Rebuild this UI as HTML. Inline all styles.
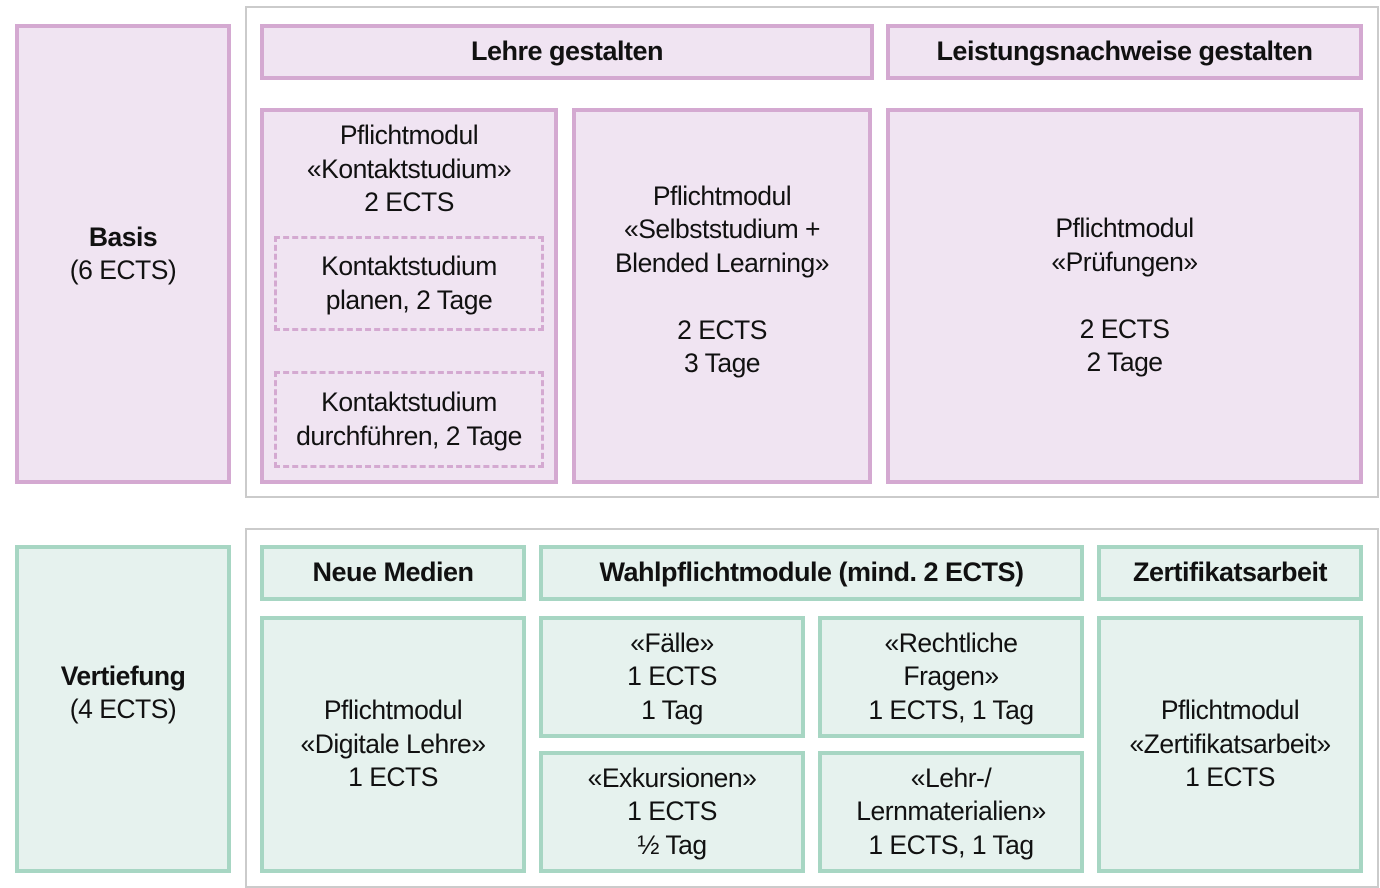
<!DOCTYPE html>
<html><head><meta charset="utf-8"><style>
body{margin:0;width:1380px;height:878px;background:#fff;position:relative;overflow:hidden;font-family:"Liberation Sans",sans-serif;color:#111}
.b{position:absolute;box-sizing:border-box;border:4px solid;display:flex;align-items:center;justify-content:center;text-align:center;font-size:26.5px;line-height:33.5px;letter-spacing:-0.5px}
.p{border-color:#d4a9d1;background:#f0e4f2}
.g{border-color:#a7d6c3;background:#e6f2ee}
.o{position:absolute;box-sizing:border-box;border:2px solid #cbcbcb;background:#fff}
.h{font-weight:bold;font-size:27px}
.d{border:3px dashed #d4a9d1;background:transparent}
</style></head><body>
<div class="o" style="left:245px;top:6px;width:1134px;height:492px"></div>
<div class="o" style="left:245px;top:528px;width:1134px;height:360px"></div>

<div class="b p" style="left:15px;top:24px;width:216px;height:460px"><div><b>Basis</b><br>(6 ECTS)</div></div>
<div class="b p h" style="left:260px;top:24px;width:614px;height:56px">Lehre gestalten</div>
<div class="b p h" style="left:886px;top:24px;width:477px;height:56px">Leistungsnachweise gestalten</div>
<div class="b p" style="left:260px;top:108px;width:298px;height:376px;align-items:flex-start;padding-top:7px"><div>Pflichtmodul<br>«Kontaktstudium»<br>2 ECTS</div></div>
<div class="b d" style="left:274px;top:236px;width:270px;height:95px"><div>Kontaktstudium<br>planen, 2 Tage</div></div>
<div class="b d" style="left:274px;top:371px;width:270px;height:97px"><div>Kontaktstudium<br>durchführen, 2 Tage</div></div>
<div class="b p" style="left:572px;top:108px;width:300px;height:376px;padding-bottom:32px"><div>Pflichtmodul<br>«Selbststudium +<br>Blended Learning»<br><br>2 ECTS<br>3 Tage</div></div>
<div class="b p" style="left:886px;top:108px;width:477px;height:376px"><div>Pflichtmodul<br>«Prüfungen»<br><br>2 ECTS<br>2 Tage</div></div>

<div class="b g" style="left:15px;top:545px;width:216px;height:328px;padding-bottom:32px"><div><b>Vertiefung</b><br>(4 ECTS)</div></div>
<div class="b g h" style="left:260px;top:545px;width:266px;height:56px">Neue Medien</div>
<div class="b g h" style="left:539px;top:545px;width:545px;height:56px">Wahlpflichtmodule (mind. 2 ECTS)</div>
<div class="b g h" style="left:1097px;top:545px;width:266px;height:56px">Zertifikatsarbeit</div>
<div class="b g" style="left:260px;top:616px;width:266px;height:257px"><div>Pflichtmodul<br>«Digitale Lehre»<br>1 ECTS</div></div>
<div class="b g" style="left:539px;top:616px;width:266px;height:122px"><div>«Fälle»<br>1 ECTS<br>1 Tag</div></div>
<div class="b g" style="left:818px;top:616px;width:266px;height:122px"><div>«Rechtliche<br>Fragen»<br>1 ECTS, 1 Tag</div></div>
<div class="b g" style="left:539px;top:751px;width:266px;height:122px"><div>«Exkursionen»<br>1 ECTS<br>½ Tag</div></div>
<div class="b g" style="left:818px;top:751px;width:266px;height:122px"><div>«Lehr-/<br>Lernmaterialien»<br>1 ECTS, 1 Tag</div></div>
<div class="b g" style="left:1097px;top:616px;width:266px;height:257px"><div>Pflichtmodul<br>«Zertifikatsarbeit»<br>1 ECTS</div></div>
</body></html>
